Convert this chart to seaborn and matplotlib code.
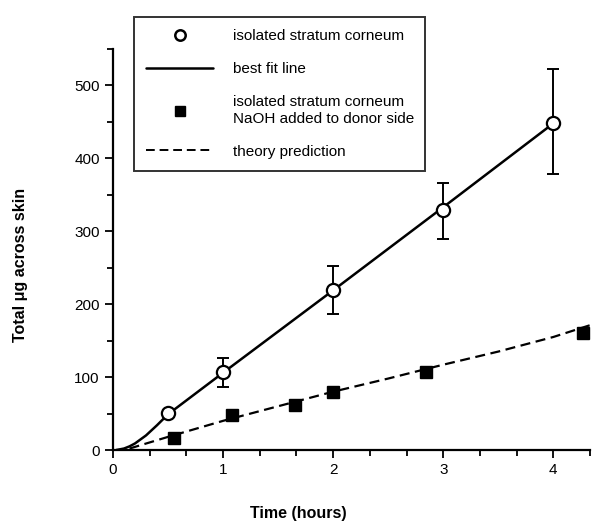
import numpy as np
import pandas as pd
import matplotlib
matplotlib.use("Agg")
import matplotlib.pyplot as plt
from matplotlib.lines import Line2D
import seaborn as sns

# measured points, intact isolated stratum corneum
t_open = [0.5, 1.0, 2.0, 3.0, 4.0]
y_open = [51, 107, 220, 329, 449]
err_lo = [0, 21, 34, 39, 70]
err_hi = [0, 19, 33, 37, 73]

# NaOH added to donor side
t_sq = [0.55, 1.08, 1.65, 2.0, 2.84, 4.27]
y_sq = [16, 48, 62, 79, 107, 160]

# best fit line
t_fit = [0.03, 0.1, 0.15, 0.2, 0.3, 0.4, 0.5, 1.0, 2.0, 3.0, 4.0]
y_fit = [0, 2, 5, 9, 20, 34, 49, 106, 219, 333, 448]

# theory prediction (dashed)
t_th = [0.15, 0.5, 1.0, 1.5, 2.0, 2.5, 3.0, 3.5, 4.0, 4.33]
y_th = [2, 18, 40, 60, 80, 98, 117, 135, 155, 171]

sns.set_theme(style="ticks")
plt.rcParams['font.family'] = ['Liberation Sans', 'DejaVu Sans']
plt.rcParams['text.color'] = "black"
plt.rcParams['axes.labelcolor'] = "black"

fig = plt.figure(figsize=(5.92, 5.21), dpi=100)
ax = fig.add_axes([113/592, 71/521, 477/592, 401/521])

dash = (0, (4.5, 2.5))
sns.lineplot(x=t_fit, y=y_fit, color="black", lw=1.8, ax=ax)
sns.lineplot(x=t_th, y=y_th, color="black", lw=1.6, ax=ax, linestyle=dash)
ax.errorbar(t_open, y_open, yerr=[err_lo, err_hi], fmt="none", ecolor="black",
            elinewidth=1.4, capsize=4, capthick=1.4, zorder=3)
ax.plot(t_open, y_open, "o", ms=9.5, mfc="white", mec="black", mew=1.6, zorder=4)
ax.plot(t_sq, y_sq, "s", ms=8.5, mfc="black", mec="black", zorder=4)

ax.set_xlim(0, 4.33)
ax.set_ylim(0, 550)
ax.set_xticks([0, 1, 2, 3, 4])
ax.set_xticks(np.arange(0, 4.34, 1/3), minor=True)
ax.set_yticks([0, 100, 200, 300, 400, 500])
ax.set_yticks(np.arange(0, 551, 50), minor=True)
ax.tick_params(which="major", direction="out", length=6, width=1.3, labelsize=11, colors="black")
ax.tick_params(which="minor", direction="out", length=4, width=1.3, colors="black")
for s in ["top", "right"]:
    ax.spines[s].set_visible(False)
for s in ["left", "bottom"]:
    ax.spines[s].set_linewidth(1.6)
    ax.spines[s].set_color("black")

ax.set_xlabel("Time (hours)", fontsize=11.5, fontweight="bold", color="black")
ax.set_ylabel("Total μg across skin", fontsize=11.5, fontweight="bold", color="black")
ax.xaxis.set_label_coords(0.388, -0.14)
ax.yaxis.set_label_coords(-0.178, 0.461)

handles = [
    Line2D([], [], ls="none", marker="o", ms=7.5, mfc="white", mec="black", mew=1.8),
    Line2D([], [], color="black", lw=1.8),
    Line2D([], [], ls="none", marker="s", ms=7.5, mfc="black", mec="black"),
    Line2D([], [], color="black", lw=1.4, linestyle=dash),
]
labels = ["isolated stratum corneum", "best fit line",
          "isolated stratum corneum\nNaOH added to donor side", "theory prediction"]
leg = fig.legend(handles, labels, loc="upper left",
                 bbox_to_anchor=(134/592, 1 - 172/521, 291/592, 155/521), mode="expand",
                 frameon=True, fancybox=False, edgecolor="black", fontsize=11,
                 handlelength=4.4, handletextpad=1.3, labelspacing=1.25,
                 borderpad=0.8, borderaxespad=0, labelcolor="black")
leg.get_frame().set_linewidth(1.4)

fig.savefig("out.png", dpi=100)
